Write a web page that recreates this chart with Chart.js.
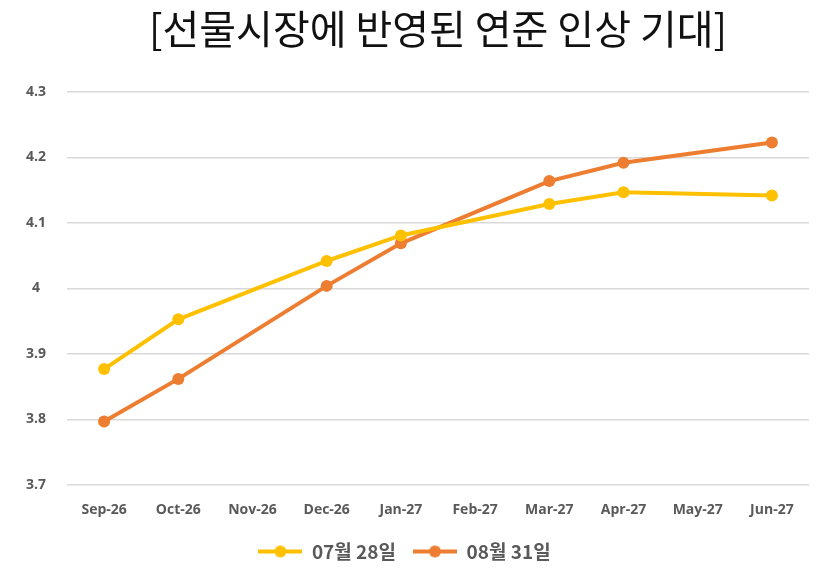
<!DOCTYPE html>
<html>
<head>
<meta charset="utf-8">
<script src="https://cdn.jsdelivr.net/npm/chart.js@4"></script>
<style>
  html, body { margin: 0; padding: 0; background: #fff; }
  #wrap { width: 838px; height: 583px; }
</style>
</head>
<body>
<div id="wrap"><canvas id="lineChart"></canvas></div>
<script>
// values (null = no point for that month)
const months = ['Sep-26', 'Oct-26', 'Nov-26', 'Dec-26', 'Jan-27', 'Feb-27', 'Mar-27', 'Apr-27', 'May-27', 'Jun-27'];
const july28 = [3.877, 3.953, null, 4.042, 4.081, null, 4.129, 4.147, null, 4.142];
const aug31 = [3.797, 3.862, null, 4.004, 4.069, null, 4.164, 4.192, null, 4.223];
const seriesNames = ['07월 28일', '08월 31일'];
const chartTitle = '[선물시장에 반영된 연준 인상 기대]';

const yellow = '#FFC000';
const orange = '#ED7D31';
const textGrey = '#595959';

// legend marker: short line with a dot in the middle
const makeMarker = function (color) {
  const c = document.createElement('canvas');
  c.width = 44;
  c.height = 14;
  const g = c.getContext('2d');
  g.strokeStyle = color;
  g.lineWidth = 4;
  g.beginPath();
  g.moveTo(0, 7);
  g.lineTo(44, 7);
  g.stroke();
  g.fillStyle = color;
  g.beginPath();
  g.arc(22, 7, 6, 0, Math.PI * 2);
  g.fill();
  return c;
};

const ctx = document.getElementById('lineChart');

new Chart(ctx, {
  type: 'line',
  data: {
    labels: months,
    datasets: [{
      label: seriesNames[0],
      data: july28,
      borderColor: yellow,
      backgroundColor: yellow,
      borderWidth: 4,
      pointRadius: 6,
      pointHoverRadius: 6,
      pointBorderWidth: 0,
      spanGaps: true,
      tension: 0
    }, {
      label: seriesNames[1],
      data: aug31,
      borderColor: orange,
      backgroundColor: orange,
      borderWidth: 4,
      pointRadius: 6,
      pointHoverRadius: 6,
      pointBorderWidth: 0,
      spanGaps: true,
      tension: 0
    }]
  },
  options: {
    responsive: true,
    maintainAspectRatio: false,
    animation: false,
    layout: {
      padding: { left: 0, right: 29, top: 0, bottom: 12 }
    },
    scales: {
      x: {
        offset: true,
        afterFit: function (scale) { scale.height = 40; },
        grid: { display: false, drawTicks: false },
        border: { display: false },
        ticks: {
          color: textGrey,
          padding: 17,
          maxRotation: 0,
          autoSkip: false,
          font: { family: 'Open Sans', size: 14, weight: 'bold' }
        }
      },
      y: {
        min: 3.7,
        max: 4.3,
        afterFit: function (scale) { scale.width = 67; },
        grid: { color: '#d9d9d9', lineWidth: 1.5, drawTicks: false },
        border: { display: false },
        ticks: {
          stepSize: 0.1,
          color: textGrey,
          crossAlign: 'center',
          padding: 21,
          font: { family: 'Open Sans', size: 14, weight: 'bold' },
          callback: function (v) { return String(Number(v.toFixed(1))); }
        }
      }
    },
    plugins: {
      title: {
        display: true,
        fullSize: false,
        text: chartTitle,
        color: '#111',
        font: { family: 'Noto Sans CJK KR', size: 40, weight: 'normal' },
        padding: { top: 5, bottom: 39 }
      },
      legend: {
        position: 'bottom',
        labels: {
          color: textGrey,
          padding: 17,
          usePointStyle: true,
          pointStyleWidth: 44,
          font: { family: 'Noto Sans CJK KR', size: 19, weight: 'bold' },
          generateLabels: function (chart) {
            return chart.data.datasets.map(function (ds, i) {
              return {
                text: ds.label,
                fontColor: textGrey,
                pointStyle: makeMarker(ds.borderColor),
                datasetIndex: i,
                hidden: false,
                lineWidth: 0
              };
            });
          }
        }
      },
      tooltip: { enabled: false }
    }
  }
});
</script>
</body>
</html>
